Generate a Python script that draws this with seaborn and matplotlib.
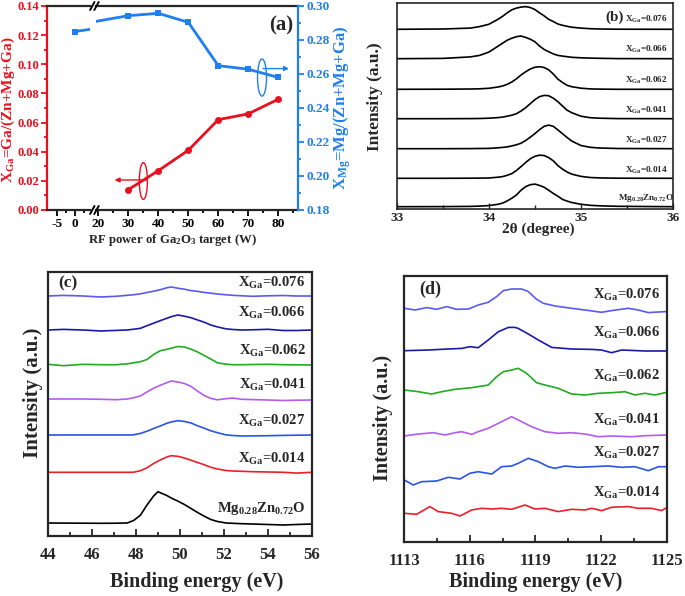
import matplotlib
matplotlib.use("Agg")
import matplotlib.pyplot as plt
from matplotlib.lines import Line2D
from matplotlib.patches import Ellipse
from matplotlib.ticker import FixedLocator, MultipleLocator, FormatStrFormatter
import pandas as pd
import seaborn as sns

# ---------------- panel (a) data ----------------
power_ga = [30, 40, 50, 60, 70, 80]
x_ga = [0.014, 0.027, 0.041, 0.062, 0.066, 0.076]
power_mg = [0, 30, 40, 50, 60, 70, 80]
x_mg = [0.285, 0.2943, 0.2957, 0.2904, 0.2649, 0.2628, 0.2580]

# ---------------- panel (b) XRD data (intensity above each baseline, a.u.) ----------------
b_names = ["0.076", "0.066", "0.062", "0.041", "0.027", "0.014", "MgZnO"]
b_2theta = [33.0, 33.5, 33.8, 33.9, 34.0, 34.1, 34.15, 34.2, 34.25, 34.3, 34.35, 34.4, 34.45,
            34.5, 34.55, 34.6, 34.65, 34.7, 34.75, 34.8, 34.85, 34.9, 35.0, 35.1, 35.2, 35.4, 36.0]
b_076 = [0, 0.3, 1.2, 2.7, 5.0, 10, 13, 16.5, 19.5, 21.2, 22.2, 22.7, 21.8, 19.8, 16.5, 13.5, 10,
         7.8, 5.3, 4, 3, 2.1, 1.2, 0.6, 0.3, 0.1, 0]
b_066 = [0, 0.3, 1.8, 3.3, 6.6, 12.5, 15.5, 18.5, 20.5, 22, 22.7, 21.3, 19.5, 17, 12.7, 9.3, 7,
         4.8, 3.3, 2.6, 2, 1.4, 0.9, 0.6, 0.4, 0.1, 0]
b_062 = [0, 0.1, 0.3, 0.5, 1, 2.3, 3.3, 5, 7.3, 10.5, 14.3, 17.5, 20.3, 22, 22.6, 21.8, 19.5,
         15.3, 10.2, 6.8, 4, 2.6, 1.1, 0.4, 0.2, 0, 0]
b_041 = [0, 0, 0.1, 0.2, 0.5, 1.1, 1.6, 2.5, 3.5, 5, 7.7, 11, 15, 19, 22, 23.3, 23, 20.5, 17,
         12.7, 8.5, 6, 2.5, 1, 0.5, 0.1, 0]
b_027 = [0, 0, 0.1, 0.2, 0.3, 0.9, 1.3, 1.8, 2.8, 3.9, 5.5, 8.2, 11.5, 15, 19, 22.3, 23.6, 22.4,
         18.8, 15, 11.2, 7.7, 3.2, 1.4, 0.7, 0.2, 0]
b_014 = [0, 0, 0.1, 0.2, 0.3, 1.1, 1.7, 3, 4.7, 7.8, 11.7, 15.8, 19.5, 22, 23.1, 22.8, 20.7, 17.5,
         12.7, 9.2, 6.3, 4.2, 1.9, 0.8, 0.4, 0.1, 0]
b_mg = [0, 0.1, 0.3, 0.6, 1.1, 2.4, 3.6, 5.8, 8.5, 11.7, 16.5, 20, 22, 22.6, 21.3, 19.5, 16.5,
        13.3, 10.5, 7.3, 5.6, 4.2, 2.4, 1.4, 0.9, 0.4, 0]

# ---------------- panel (c) XPS Mg 2p data ----------------
c_energy = [44.0, 44.7, 45.6, 46.4, 47.1, 47.6, 47.9, 48.2, 48.5, 48.8, 49.0, 49.1, 49.4, 49.6,
            49.9, 50.2, 50.5, 50.8, 51.1, 51.4, 51.7, 52.1, 52.4, 52.8, 53.3, 54.0, 54.7, 55.3, 56.0]
c_076 = [0, 0.6, 0, -1, -0.3, 0.7, 1.3, 2.2, 3.5, 4.8, 5.8, 6.3, 8.2, 9, 7.8, 6.8, 5.4, 4.6, 3.6,
         2.8, 2, 1.2, 0.7, 0.2, -0.3, 0.2, 0.5, 0, 0]
c_066 = [0, 0.6, 0, -1, -0.4, 0, 0.8, 1.7, 4.3, 6.8, 8.5, 9.3, 11.7, 13.3, 15, 13.8, 12.3, 10, 7.8,
         5, 3.1, 1.1, 0.5, 0, 0.2, 0.7, -0.5, -0.5, 0]
c_062 = [0.7, -0.7, 0.7, 0.3, 0.3, 1.2, 2.2, 3.3, 5.5, 10.5, 13, 14.2, 15.7, 16.8, 18.5, 18, 15.8,
         13, 9.5, 6, 2.2, 0.8, 0.3, 0.3, 0.5, 0.7, 0.3, 0.2, 0]
c_041 = [0, 0, 0, -0.3, -0.7, 0, 1.3, 3.1, 7, 10.8, 12.7, 13.7, 16.3, 18, 17, 15.5, 12.6, 7.8, 3.5,
         0.6, -0.8, 0.3, 1, -0.3, -0.6, -1, -1.5, -1.2, -1]
c_027 = [0, 0, 0, 0, 0, 0, 0.2, 1.6, 3.8, 6.5, 8.2, 9, 11.7, 13, 14.3, 13.6, 12, 9.2, 6.8, 4.2, 2.3,
         0.1, -0.5, -1, -0.9, -0.7, -0.4, -0.2, 0]
c_014 = [0, 0, 0, 0, 0, 0, 0.1, 1.6, 4.5, 8.8, 11.2, 12.3, 15.3, 16.6, 16, 14.3, 12.1, 9.8, 7.6, 5,
         3.3, 1.8, 1.3, 1, 0.6, 0.3, 0, -0.8, 0]
c_mg = [1, 0.9, 0.8, 0.7, 0.8, 1, 3.6, 8.8, 19, 28, 32.3, 31.3, 28.5, 26, 22.9, 19.5, 15.5, 11.5,
        7.8, 4.5, 2.5, 1, 0.7, 0.3, 0, -0.5, -1, -0.5, 0]

# ---------------- panel (d) XPS Ga 2p data ----------------
d_076_e = [1113.0, 1113.49, 1114.02, 1114.48, 1114.94, 1115.39, 1115.93, 1116.38, 1116.84, 1117.22,
           1117.53, 1117.91, 1118.37, 1118.67, 1119.05, 1119.36, 1119.89, 1120.65, 1121.26, 1122.02,
           1122.48, 1123.24, 1123.70, 1124.16, 1124.62, 1125.0]
d_076 = [0, -1.7, 0.7, -1, 1.7, -1, -0.7, 3.3, 6, 11.7, 17.7, 19.3, 19.3, 16.7, 9, 5, 2.3, 0, -1.7,
         -4, -2.3, 0, -1.7, -4.3, -3.7, -3.3]
d_066_e = [1113.0, 1114.10, 1115.01, 1115.62, 1116.0, 1116.38, 1116.84, 1117.30, 1117.76, 1118.06,
           1118.21, 1118.67, 1119.13, 1119.74, 1120.65, 1121.57, 1122.02, 1122.48, 1122.94, 1124.01,
           1125.0]
d_066 = [0, 0.7, 1.7, 2.3, 4, 3, 10.7, 19, 23.3, 23.3, 22.3, 16.7, 10.7, 3.3, 1.7, 1.3, 0.7, -2,
         0.7, -0.3, -0.3]
d_062_e = [1113.0, 1113.64, 1114.25, 1114.71, 1115.32, 1116.08, 1116.84, 1117.22, 1117.53, 1117.91,
           1118.21, 1118.59, 1119.05, 1119.43, 1120.04, 1120.65, 1121.26, 1121.87, 1122.48, 1123.09,
           1123.55, 1124.01, 1124.46, 1125.0]
d_062 = [0, -1.7, -4, -1.7, 0.7, 2.3, 5, 13.3, 18.3, 20, 21.7, 16.7, 7.3, 5, 1.7, -4, -5, -3.3,
         -2.7, -1.7, -5, -3.3, -5, -2.3]
d_041_e = [1113.0, 1113.64, 1114.33, 1114.86, 1115.32, 1115.62, 1116.08, 1116.38, 1116.84, 1117.30,
           1117.60, 1117.91, 1118.37, 1118.82, 1119.43, 1120.04, 1120.65, 1121.26, 1121.87, 1122.48,
           1123.40, 1124.01, 1125.0]
d_041 = [0, 2, 3.3, 1, 3.3, 4.3, 1.7, 4.3, 7.7, 12.7, 16, 19.3, 14.3, 9.3, 4.3, 2.7, 3.3, 2, -0.7,
         0, -0.7, 0.3, 1]
d_027_e = [1113.0, 1113.41, 1113.79, 1114.48, 1115.01, 1115.55, 1116.0, 1116.38, 1117.0, 1117.45,
           1117.91, 1118.21, 1118.67, 1119.13, 1119.59, 1119.89, 1120.35, 1120.96, 1121.57, 1122.33,
           1122.94, 1123.55, 1124.16, 1124.62, 1125.0]
d_027 = [0, -5, -1.7, -1, 2.7, 1, 6.7, 8.3, 6, 13.3, 14, 16.7, 21.7, 18.3, 13.3, 11.7, 14, 12.7,
         13.3, 14, 12.7, 13.3, 9.3, 13.3, 13.3]
d_014_e = [1113.0, 1113.56, 1114.17, 1114.55, 1115.16, 1115.55, 1116.08, 1116.54, 1117.0, 1117.45,
           1117.91, 1118.52, 1118.98, 1119.43, 1120.04, 1120.65, 1121.26, 1121.57, 1122.02, 1122.48,
           1123.24, 1123.70, 1124.31, 1124.77, 1125.0]
d_014 = [0, -1, 6.7, 1.7, 0, -2.7, 3.3, 5, 4.3, 5, 4, 8.3, 4.3, 5, 1.7, 4, 3.3, 5, 2.7, 6, 6.7, 5,
         5, 2.7, 5.7]

# ---------------- style ----------------
sns.set_theme(style="ticks")
plt.rcParams['font.family'] = ['Liberation Serif', 'DejaVu Serif']
plt.rcParams['font.weight'] = 'bold'
plt.rcParams['axes.labelweight'] = 'bold'
plt.rcParams['axes.unicode_minus'] = False
plt.rcParams['mathtext.fontset'] = 'custom'
plt.rcParams['mathtext.rm'] = 'Liberation Serif:bold'
plt.rcParams['mathtext.it'] = 'Liberation Serif:bold'
plt.rcParams['mathtext.bf'] = 'Liberation Serif:bold'

W, H = 685, 596
fig = plt.figure(figsize=(W / 100, H / 100), dpi=100)


def rect(l, t, r, b):
    return [l / W, 1 - b / H, (r - l) / W, (b - t) / H]


def fig_line(x0, y0, x1, y1, **kw):
    fig.add_artist(Line2D([x0 / W, x1 / W], [1 - y0 / H, 1 - y1 / H],
                          transform=fig.transFigure, **kw))


RED = "#e8101e"
BLUE = "#1f7ff0"

# ================= panel (a) =================
axL = fig.add_axes(rect(46.7, 6, 90.5, 210))
axR = fig.add_axes(rect(96, 6, 298, 210), sharey=axL)
axL2 = axL.twinx()
axR2 = axR.twinx()

sns.lineplot(x=power_ga, y=x_ga, ax=axR, color=RED, marker='o', markersize=5,
             markeredgewidth=0, linewidth=2)
for a in (axL2, axR2):
    sns.lineplot(x=power_mg, y=x_mg, ax=a, color=BLUE, marker='s', markersize=4.5,
                 markeredgewidth=0, linewidth=2)

axL.set_xlim(-7.7, 4.2)
axR.set_xlim(19.2, 86.6)
axL.set_ylim(0, 0.14)
for a in (axL2, axR2):
    a.set_ylim(0.18, 0.30)
    a.set_ylabel("")
for a in (axL, axR):
    a.set_ylabel("")
    a.set_xlabel("")

axL.yaxis.set_major_locator(MultipleLocator(0.02))
axL.yaxis.set_minor_locator(MultipleLocator(0.01))
axL.yaxis.set_major_formatter(FormatStrFormatter('%.2f'))
axR2.yaxis.set_major_locator(MultipleLocator(0.02))
axR2.yaxis.set_minor_locator(MultipleLocator(0.01))
axR2.yaxis.set_major_formatter(FormatStrFormatter('%.2f'))
axL.xaxis.set_major_locator(FixedLocator([-5, 0]))
axL.xaxis.set_minor_locator(FixedLocator([-2.5, 2.5]))
axR.xaxis.set_major_locator(FixedLocator([20, 30, 40, 50, 60, 70, 80]))
axR.xaxis.set_minor_locator(FixedLocator([25, 35, 45, 55, 65, 75, 85]))

lw_sp = 1.6
for a in (axL, axR, axL2, axR2):
    for s in a.spines.values():
        s.set_linewidth(lw_sp)
axL.spines['right'].set_visible(False)
axL.spines['left'].set_color(RED)
axR.spines['left'].set_visible(False)
axR.spines['right'].set_visible(False)
for s in ('left', 'right', 'top', 'bottom'):
    axL2.spines[s].set_visible(False)
for s in ('left', 'top', 'bottom'):
    axR2.spines[s].set_visible(False)
axR2.spines['right'].set_color(BLUE)

axL.tick_params(axis='y', which='both', colors=RED, labelsize=9, width=1.3, direction='out',
                pad=1.5)
axL.tick_params(axis='y', which='major', length=4)
axL.tick_params(axis='y', which='minor', length=2.5)
axR.tick_params(axis='y', which='both', left=False, labelleft=False)
axL2.tick_params(axis='y', which='both', right=False, labelright=False)
axR2.tick_params(axis='y', which='both', colors=BLUE, labelsize=9.5, width=1.3, direction='out',
                 pad=2)
axR2.tick_params(axis='y', which='major', length=4)
axR2.tick_params(axis='y', which='minor', length=2.5)
for a in (axL, axR):
    a.tick_params(axis='x', which='both', labelsize=9.5, width=1.3, direction='out', colors='black')
    a.tick_params(axis='x', which='major', length=4, pad=1.5)
    a.tick_params(axis='x', which='minor', length=2.5)
for a in (axL, axR, axL2, axR2):
    for lab in a.get_xticklabels() + a.get_yticklabels():
        lab.set_fontweight('bold')

# break marks
for yb in (6, 210):
    for xb in (92.3, 96.5):
        fig_line(xb - 2.2, yb + 4, xb + 2.2, yb - 4, color='black', lw=1.4)

# ellipses and arrows
axR.add_patch(Ellipse((35, 0.0199), 2.7, 0.0252, fill=False, edgecolor=RED, lw=1))
axR.annotate("", xy=(25.4, 0.0206), xytext=(36.2, 0.0206),
             arrowprops=dict(arrowstyle='-|>', color=RED, lw=1, mutation_scale=7,
                             shrinkA=0, shrinkB=0))
axR2.add_patch(Ellipse((74.6, 0.2579), 3.0, 0.0218, fill=False, edgecolor=BLUE, lw=1))
axR2.annotate("", xy=(83.6, 0.2632), xytext=(74.9, 0.2632),
              arrowprops=dict(arrowstyle='-|>', color=BLUE, lw=1, mutation_scale=7,
                              shrinkA=0, shrinkB=0))
axR.text(0.975, 0.905, "(a)", transform=axR.transAxes, ha='right', va='center',
         fontsize=15, fontweight='bold')

fig.text(172 / W, 1 - 239.5 / H, r"RF power of Ga$_2$O$_3$ target (W)", ha='center',
         va='center', fontsize=9.2, fontweight='bold')
fig.text(8.7 / W, 1 - 110 / H, r"X$_{Ga}$=Ga/(Zn+Mg+Ga)", rotation=90, ha='center', va='center',
         fontsize=11, fontweight='bold', color=RED)
fig.text(342 / W, 1 - 108 / H, r"X$_{Mg}$=Mg/(Zn+Mg+Ga)", rotation=90, ha='center', va='center',
         fontsize=12, fontweight='bold', color=BLUE)

# ================= panel (b) =================
axb = fig.add_axes(rect(396.7, 3.3, 673, 209.3))
b_curves = [b_076, b_066, b_062, b_041, b_027, b_014, b_mg]
b_offsets = [180, 150.6, 120, 90.6, 60.6, 31, 2.6]
b_label_y = [190.3, 160, 129.3, 99.3, 69.3, 39.3, 11.6]
rows = []
for name, cv, off in zip(b_names, b_curves, b_offsets):
    for xv, hv in zip(b_2theta, cv):
        rows.append({"two_theta": xv, "intensity": hv + off, "sample": name})
df_b = pd.DataFrame(rows)
sns.lineplot(data=df_b, x="two_theta", y="intensity", hue="sample", units="sample",
             estimator=None, palette={n: "black" for n in b_names}, legend=False,
             linewidth=1.2, ax=axb, sort=False)
axb.set_xlim(33, 36)
axb.set_ylim(0, 206)
axb.set_yticks([])
axb.xaxis.set_major_locator(MultipleLocator(1))
axb.xaxis.set_minor_locator(MultipleLocator(0.5))
axb.tick_params(axis='x', which='both', direction='in', labelsize=9.5, width=1, pad=2)
axb.tick_params(axis='x', which='major', length=4)
axb.tick_params(axis='x', which='minor', length=3)
for s in axb.spines.values():
    s.set_linewidth(1.2)
    s.set_visible(True)
for lab in axb.get_xticklabels():
    lab.set_fontweight('bold')
axb.set_xlabel("")
axb.set_ylabel("")
b_texts = [r"X$_{Ga}$=0.076", r"X$_{Ga}$=0.066", r"X$_{Ga}$=0.062", r"X$_{Ga}$=0.041",
           r"X$_{Ga}$=0.027", r"X$_{Ga}$=0.014", r"Mg$_{0.28}$Zn$_{0.72}$O"]
for t, yv in zip(b_texts, b_label_y):
    axb.text(35.71, yv, t, ha='center', va='center', fontsize=6.6, fontweight='bold')
axb.text(0.79, 0.93, "(b)", transform=axb.transAxes, ha='center', va='center',
         fontsize=11, fontweight='bold')
fig.text(538 / W, 1 - 229 / H, "2θ (degree)", ha='center', va='center', fontsize=11,
         fontweight='bold')
fig.text(375 / W, 1 - 97 / H, "Intensity (a.u.)", rotation=90, ha='center', va='center',
         fontsize=12.5, fontweight='bold')

# ================= panel (c) =================
COLS = ["#5a5af0", "#1a1aa8", "#22aa22", "#b35cf0", "#2a55e0", "#e8202a", "black"]
axc = fig.add_axes(rect(48, 272, 312, 536))
c_curves = [c_076, c_066, c_062, c_041, c_027, c_014, c_mg]
c_offsets = [240, 206, 171, 137, 101, 63.7, 12]
c_label_y = [252.7, 222.7, 185.3, 151, 115.3, 76.7, 27.7]
rows = []
for name, cv, off in zip(b_names, c_curves, c_offsets):
    for xv, hv in zip(c_energy, cv):
        rows.append({"energy": xv, "intensity": hv + off, "sample": name})
df_c = pd.DataFrame(rows)
sns.lineplot(data=df_c, x="energy", y="intensity", hue="sample", units="sample",
             estimator=None, palette=dict(zip(b_names, COLS)), legend=False,
             linewidth=1.2, ax=axc, sort=False)
axc.set_xlim(44, 56)
axc.set_ylim(0, 264)
axc.set_yticks([])
axc.xaxis.set_major_locator(MultipleLocator(2))
axc.xaxis.set_minor_locator(MultipleLocator(1))
c_texts = [r"X$_{Ga}$=0.076", r"X$_{Ga}$=0.066", r"X$_{Ga}$=0.062", r"X$_{Ga}$=0.041",
           r"X$_{Ga}$=0.027", r"X$_{Ga}$=0.014", r"Mg$_{0.28}$Zn$_{0.72}$O"]
for t, yv in zip(c_texts, c_label_y):
    axc.text(55.7, yv, t, ha='right', va='center', fontsize=10.5, fontweight='bold')
axc.text(0.075, 0.955, "(c)", transform=axc.transAxes, ha='center', va='center',
         fontsize=12.5, fontweight='bold')
fig.text(197 / W, 1 - 582 / H, "Binding energy (eV)", ha='center', va='center', fontsize=14.5,
         fontweight='bold')
fig.text(33 / W, 1 - 393 / H, "Intensity (a.u.)", rotation=90, ha='center', va='center',
         fontsize=15, fontweight='bold')

# ================= panel (d) =================
axd = fig.add_axes(rect(404.3, 276, 666.7, 541.5))
d_names = b_names[:6]
d_curves = [(d_076_e, d_076), (d_066_e, d_066), (d_062_e, d_062), (d_041_e, d_041),
            (d_027_e, d_027), (d_014_e, d_014)]
d_offsets = [233.2, 190.8, 151.5, 105.5, 61.5, 28.2]
d_label_y = [246.5, 208.5, 165.5, 121.5, 88.5, 48.5]
rows = []
for name, (ev, cv), off in zip(d_names, d_curves, d_offsets):
    for xv, hv in zip(ev, cv):
        rows.append({"energy": xv, "intensity": hv + off, "sample": name})
df_d = pd.DataFrame(rows)
sns.lineplot(data=df_d, x="energy", y="intensity", hue="sample", units="sample",
             estimator=None, palette=dict(zip(d_names, COLS[:6])), legend=False,
             linewidth=1.2, ax=axd, sort=False)
axd.set_xlim(1113, 1125)
axd.set_ylim(0, 265.5)
axd.set_yticks([])
axd.xaxis.set_major_locator(MultipleLocator(3))
axd.xaxis.set_minor_locator(MultipleLocator(1.5))
for t, yv in zip(c_texts[:6], d_label_y):
    axd.text(1124.7, yv, t, ha='right', va='center', fontsize=10.5, fontweight='bold')
axd.text(0.1, 0.95, "(d)", transform=axd.transAxes, ha='center', va='center',
         fontsize=13, fontweight='bold')
fig.text(535.5 / W, 1 - 582 / H, "Binding energy (eV)", ha='center', va='center',
         fontsize=14.5, fontweight='bold')
fig.text(383 / W, 1 - 418 / H, "Intensity (a.u.)", rotation=90, ha='center', va='center',
         fontsize=14.5, fontweight='bold')

for a in (axc, axd):
    a.set_xlabel("")
    a.set_ylabel("")
    for s in a.spines.values():
        s.set_linewidth(1.6)
        s.set_visible(True)
    a.tick_params(axis='x', which='both', direction='in', labelsize=12, width=1.3, pad=8)
    a.tick_params(axis='x', which='major', length=5)
    a.tick_params(axis='x', which='minor', length=3)
    for lab in a.get_xticklabels():
        lab.set_fontweight('bold')

fig.savefig("out.png", dpi=100)
